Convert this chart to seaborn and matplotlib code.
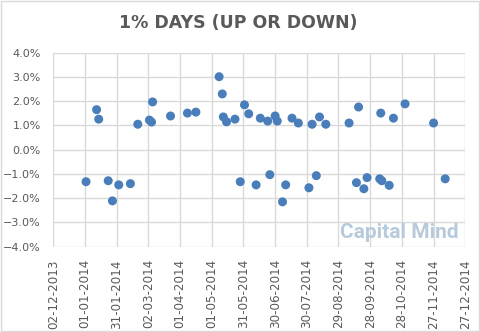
import matplotlib
matplotlib.use("Agg")
import matplotlib.pyplot as plt
import matplotlib.dates as mdates
import matplotlib.ticker as mticker
import seaborn as sns
import pandas as pd
from matplotlib.patches import Rectangle

# ---- data ----
dates = [
    "2014-01-02", "2014-01-12", "2014-01-14", "2014-01-23", "2014-01-27",
    "2014-02-02", "2014-02-13", "2014-02-20", "2014-03-03", "2014-03-05",
    "2014-03-06", "2014-03-23", "2014-04-08", "2014-04-16", "2014-05-08",
    "2014-05-11", "2014-05-12", "2014-05-15", "2014-05-23", "2014-05-28",
    "2014-06-01", "2014-06-05", "2014-06-12", "2014-06-16", "2014-06-23",
    "2014-06-25", "2014-06-30", "2014-07-02", "2014-07-07", "2014-07-10",
    "2014-07-16", "2014-07-22", "2014-08-01", "2014-08-04", "2014-08-08",
    "2014-08-11", "2014-08-17", "2014-09-08", "2014-09-15", "2014-09-17",
    "2014-09-22", "2014-09-25", "2014-10-07", "2014-10-08", "2014-10-09",
    "2014-10-16", "2014-10-20", "2014-10-31", "2014-11-27", "2014-12-08",
]
returns = [
    -1.32, 1.65, 1.26, -1.28, -2.11,
    -1.45, -1.40, 1.05, 1.22, 1.14,
    1.97, 1.39, 1.51, 1.55, 3.01,
    2.30, 1.35, 1.15, 1.26, -1.32,
    1.85, 1.48, -1.45, 1.30, 1.18,
    -1.03, 1.39, 1.18, -2.15, -1.45,
    1.30, 1.10, -1.57, 1.05, -1.07,
    1.35, 1.05, 1.10, -1.36, 1.76,
    -1.61, -1.15, -1.20, 1.51, -1.28,
    -1.47, 1.30, 1.89, 1.10, -1.20,
]
x_start = "2013-12-02"
x_end = "2014-12-27"
tick_step_days = 30
y_ticks = [-4, -3, -2, -1, 0, 1, 2, 3, 4]
title = "1% DAYS (UP OR DOWN)"
watermark = "Capital Mind"

df = pd.DataFrame({"date": pd.to_datetime(dates), "ret": [r / 100 for r in returns]})

sns.set_style("white")
fig = plt.figure(figsize=(4.8, 3.32), dpi=100)
ax = fig.add_axes([0.111, 0.2569, 0.8583, 0.5844])

sns.scatterplot(data=df, x="date", y="ret", ax=ax, color="#4a7ebb",
                s=42, edgecolor="none", zorder=3, legend=False)

x0 = pd.Timestamp(x_start)
x1 = pd.Timestamp(x_end)
ax.set_xlim(x0, x1)
ax.set_ylim(y_ticks[0] / 100, y_ticks[-1] / 100)

ticks = pd.date_range(x0, x1, freq=f"{tick_step_days}D")
ax.set_xticks(ticks)
ax.xaxis.set_major_formatter(mdates.DateFormatter("%d-%m-%Y"))
ax.set_yticks([v / 100 for v in y_ticks])
ax.yaxis.set_major_formatter(mticker.PercentFormatter(1.0, decimals=1))

ax.grid(True, color="#d9d9d9", linewidth=1.0)
ax.set_axisbelow(True)
for sp in ax.spines.values():
    sp.set_visible(False)
ax.tick_params(axis="both", length=0, colors="#595959", labelsize=8)
ax.tick_params(axis="x", pad=9, labelsize=8.6)
ax.tick_params(axis="y", pad=9)
for lab in ax.get_xticklabels():
    lab.set_rotation(90)
ax.set_xlabel("")
ax.set_ylabel("")

fig.text(0.497, 0.931, title, ha="center", va="center", fontsize=12.5,
         fontweight="bold", color="#595959", family="DejaVu Sans")

ax.text(0.985, 0.025, watermark, transform=ax.transAxes, ha="right", va="bottom",
        fontsize=15, fontweight="bold", color="#b7cadb",
        family=["Roboto", "DejaVu Sans"], fontstretch="condensed", zorder=2)

fig.patches.append(Rectangle((0.002, 0.003), 0.995, 0.993, transform=fig.transFigure,
                             fill=False, edgecolor="#d9d9d9", linewidth=1.0))

fig.savefig("out.png", dpi=100)
